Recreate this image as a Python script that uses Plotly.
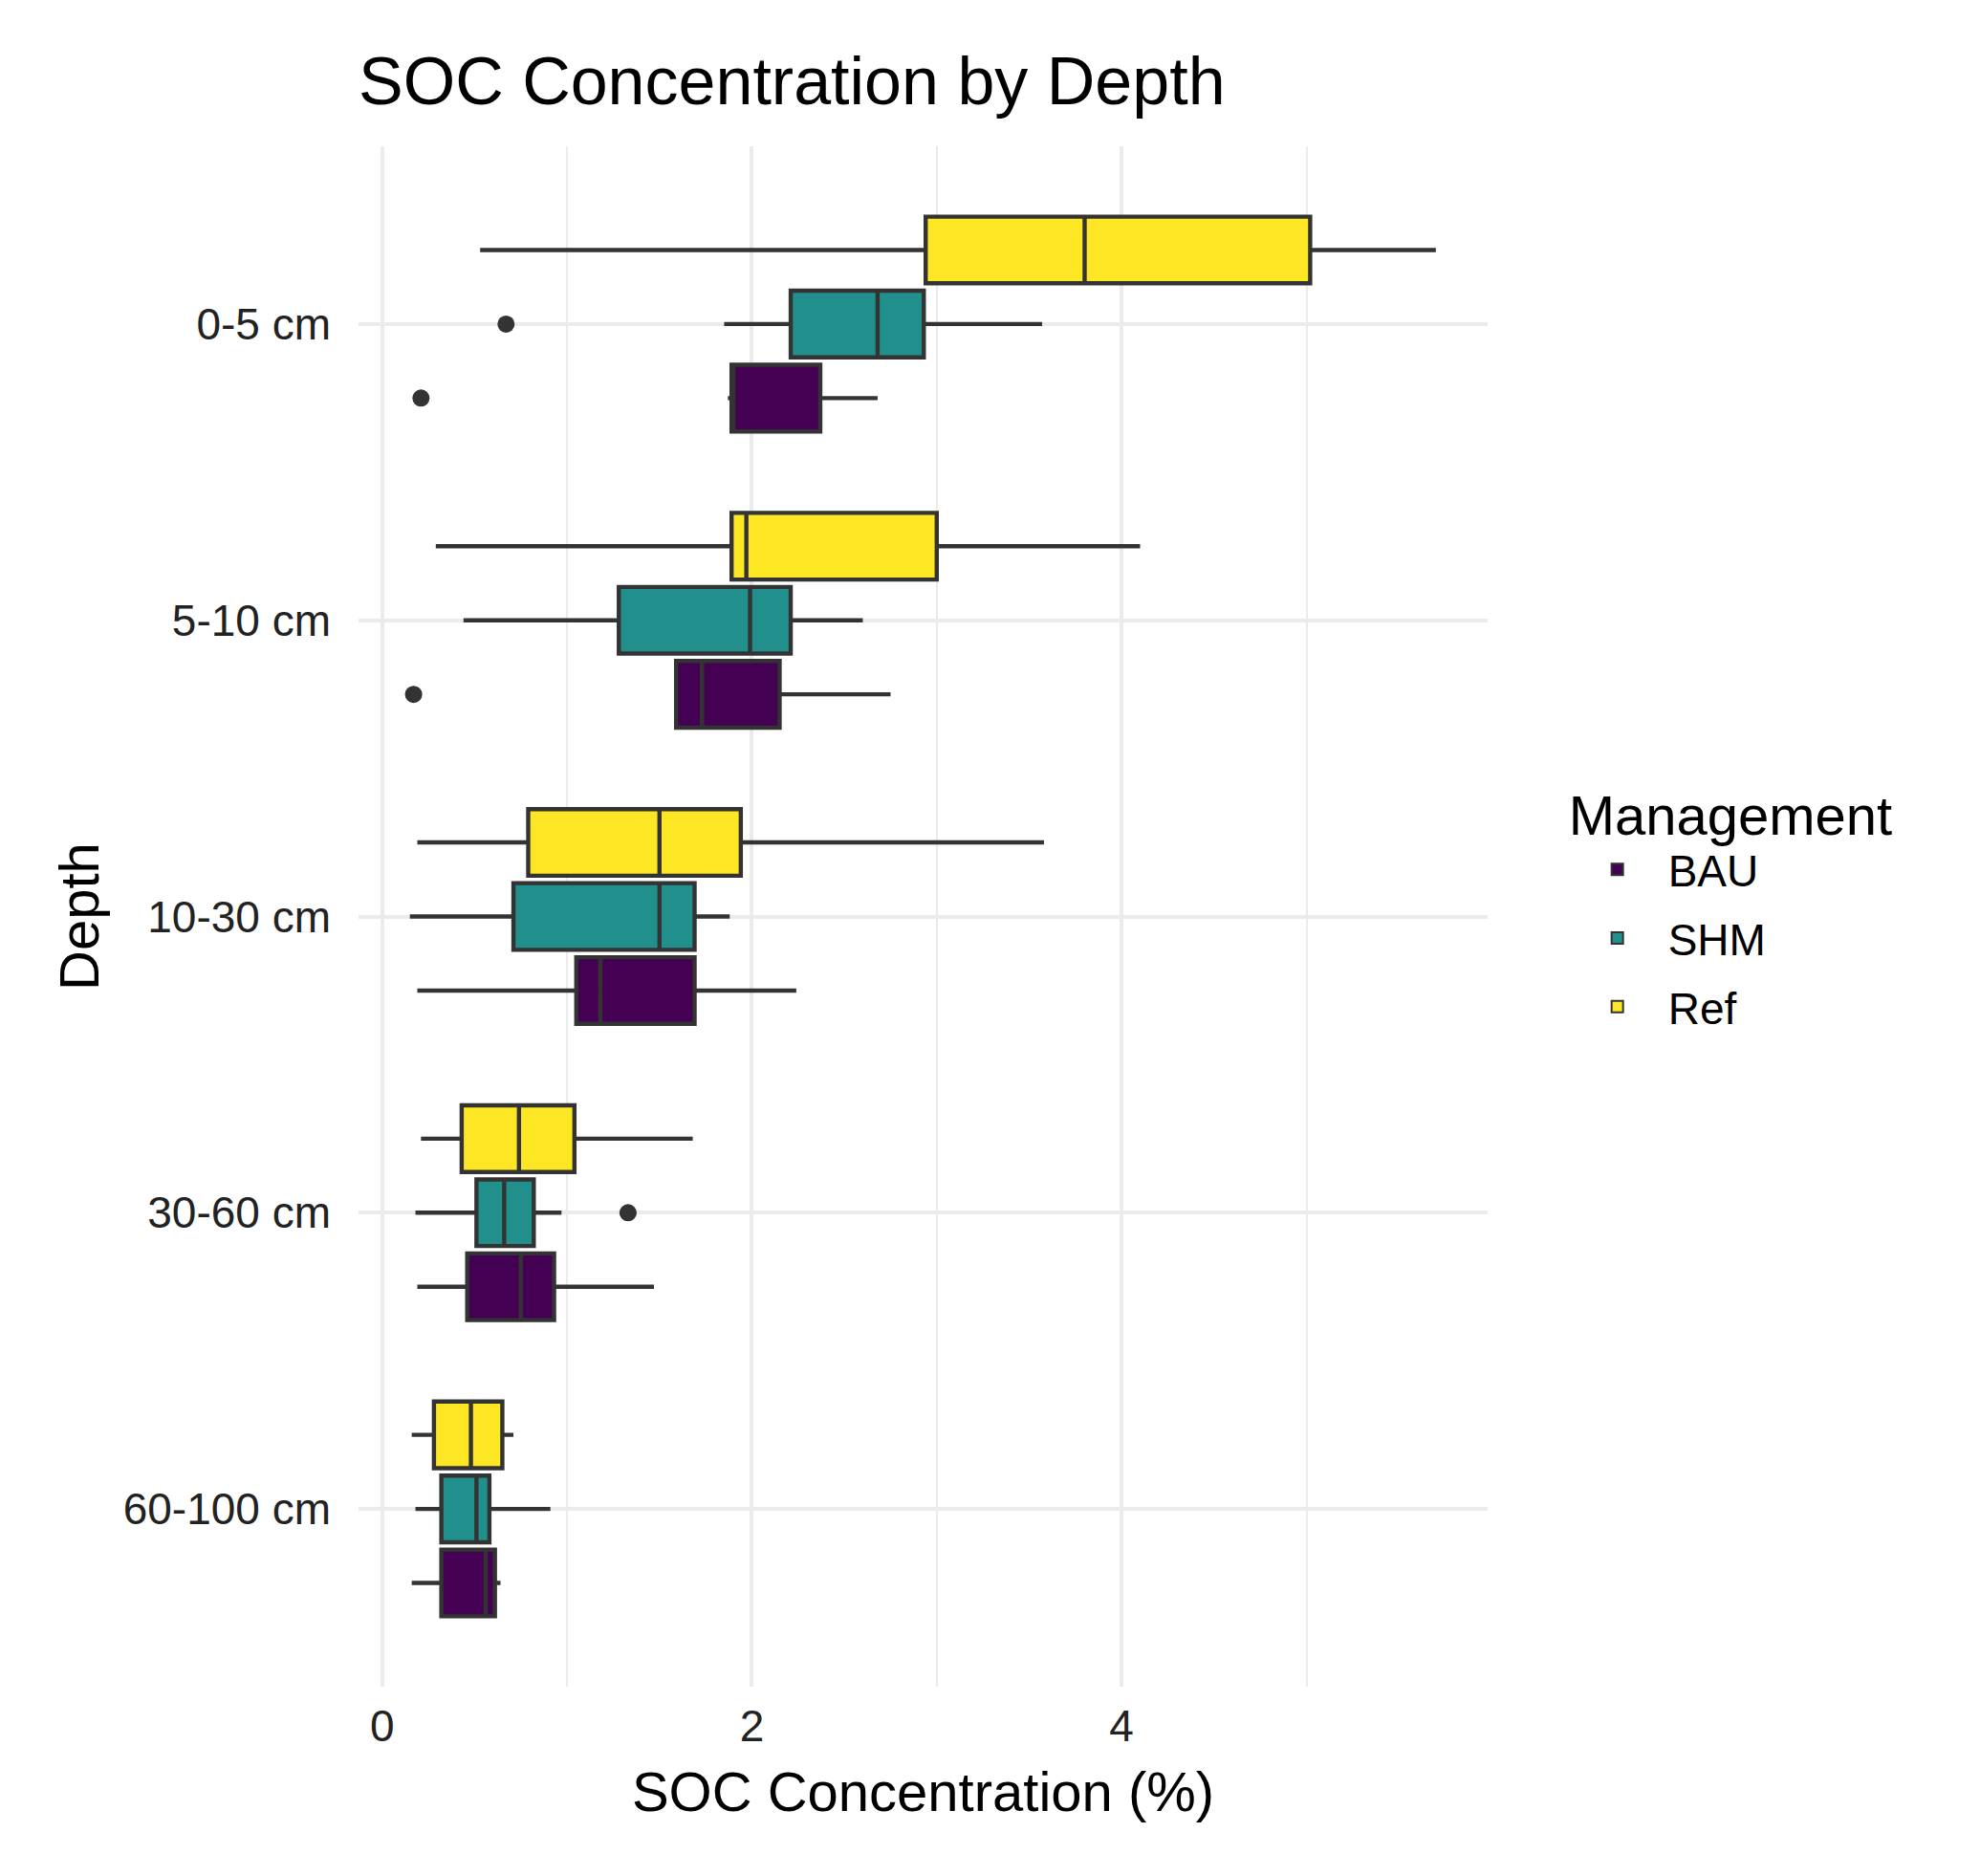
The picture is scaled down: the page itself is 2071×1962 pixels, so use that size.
import plotly.graph_objects as go

depths = ["0-5 cm", "5-10 cm", "10-30 cm", "30-60 cm", "60-100 cm"]
managements = ["BAU", "SHM", "Ref"]
colors = {"BAU": "#440154", "SHM": "#21908C", "Ref": "#FDE725"}

# five-number summaries per depth (order of `depths`)
bau_low = [1.87, 1.59, 0.19, 0.19, 0.16]
bau_q1 = [1.89, 1.59, 1.05, 0.46, 0.32]
bau_med = [1.90, 1.73, 1.18, 0.75, 0.56]
bau_q3 = [2.37, 2.15, 1.69, 0.93, 0.61]
bau_high = [2.68, 2.75, 2.24, 1.47, 0.64]

shm_low = [1.85, 0.44, 0.15, 0.18, 0.18]
shm_q1 = [2.21, 1.28, 0.71, 0.51, 0.32]
shm_med = [2.68, 1.99, 1.50, 0.66, 0.51]
shm_q3 = [2.93, 2.21, 1.69, 0.82, 0.58]
shm_high = [3.57, 2.60, 1.88, 0.97, 0.91]

ref_low = [0.53, 0.29, 0.19, 0.21, 0.16]
ref_q1 = [2.94, 1.89, 0.79, 0.43, 0.28]
ref_med = [3.80, 1.97, 1.50, 0.74, 0.48]
ref_q3 = [5.02, 3.00, 1.94, 1.04, 0.65]
ref_high = [5.70, 4.10, 3.58, 1.68, 0.71]

# outliers
bau_out_depth = ["0-5 cm", "5-10 cm"]
bau_out_val = [0.21, 0.17]
shm_out_depth = ["0-5 cm", "30-60 cm"]
shm_out_val = [0.67, 1.33]
ref_out_depth = []
ref_out_val = []

stats = {
    "BAU": (bau_low, bau_q1, bau_med, bau_q3, bau_high, bau_out_depth, bau_out_val),
    "SHM": (shm_low, shm_q1, shm_med, shm_q3, shm_high, shm_out_depth, shm_out_val),
    "Ref": (ref_low, ref_q1, ref_med, ref_q3, ref_high, ref_out_depth, ref_out_val),
}

FONT = "Liberation Sans, Arial, sans-serif"
fig = go.Figure()
for m in managements:
    lo, q1, med, q3, hi, od, ov = stats[m]
    fig.add_trace(go.Box(
        name=m, y=depths, q1=q1, median=med, q3=q3,
        lowerfence=lo, upperfence=hi, orientation="h",
        fillcolor=colors[m], line=dict(color="#333333", width=4.4),
        whiskerwidth=0, boxpoints=False, offsetgroup=m,
        legendgroup=m,
    ))
for m in managements:
    lo, q1, med, q3, hi, od, ov = stats[m]
    fig.add_trace(go.Scatter(
        x=ov, y=od, mode="markers", orientation="h", offsetgroup=m,
        marker=dict(color="#333333", size=18), showlegend=False,
        legendgroup=m,
    ))

fig.update_layout(
    width=2071, height=1962,
    paper_bgcolor="white", plot_bgcolor="white",
    margin=dict(l=375, r=515, t=153, b=198),
    boxmode="group", boxgap=0.25, boxgroupgap=0.1,
    scattermode="group", scattergap=0.25,
    font=dict(family=FONT, color="black"),
    title=dict(text="SOC Concentration by Depth", x=375 / 2071, xanchor="left",
               y=1 - 84 / 1962, yanchor="middle", yref="container",
               font=dict(size=70, color="black")),
    xaxis=dict(
        range=[-0.128, 5.98], tickvals=[0, 2, 4], ticktext=["0", "2", "4"],
        showgrid=True, gridcolor="#EBEBEB", gridwidth=4,
        minor=dict(tickvals=[1, 3, 5], showgrid=True, gridcolor="#EBEBEB", gridwidth=2.2),
        zeroline=False, showline=False, ticks="",
        ticklabelstandoff=10,
        tickfont=dict(size=46, color="#222222"),
        title=dict(text="SOC Concentration (%)", font=dict(size=58), standoff=23),
    ),
    yaxis=dict(
        type="category", categoryorder="array", categoryarray=depths[::-1],
        range=[-0.6, 4.6],
        showgrid=True, gridcolor="#EBEBEB", gridwidth=4,
        zeroline=False, showline=False, ticks="",
        ticklabelstandoff=28,
        tickfont=dict(size=46, color="#222222"),
        title=dict(text="Depth", font=dict(size=58), standoff=6),
    ),
    legend=dict(
        title=dict(text="Management", font=dict(size=58)),
        font=dict(size=46), x=1.07, xanchor="left", y=0.6, yanchor="top",
        traceorder="grouped", tracegroupgap=9, itemsizing="constant",
        itemwidth=96,
    ),
)

fig.write_html("out.html")
